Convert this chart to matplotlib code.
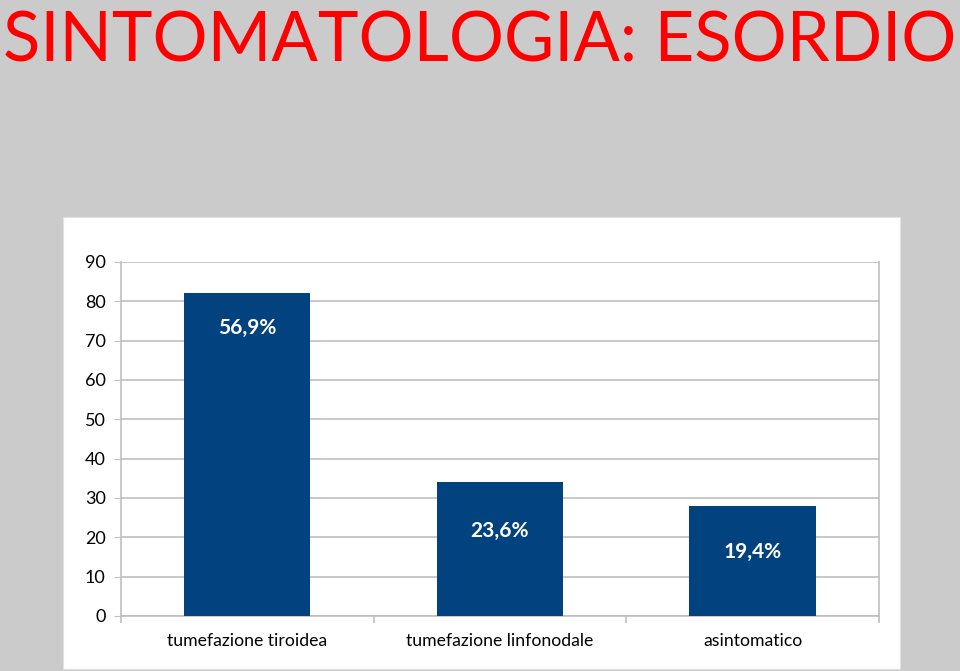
import matplotlib.pyplot as plt

categories = ["tumefazione tiroidea", "tumefazione linfonodale", "asintomatico"]
values = [82, 34, 28]
labels = ["56,9%", "23,6%", "19,4%"]
label_y = [73.2, 21.6, 16.3]

BG = "#cbcbcb"
BAR = "#02437f"
GRID = "#bfbfbf"

plt.rcParams['font.family'] = ['Lato', 'DejaVu Sans']

fig = plt.figure(figsize=(9.6, 6.71), dpi=100, facecolor=BG)

# white chart panel
panel = fig.add_axes([0.0656, 0.003, 0.8719, 0.6736], zorder=-1)
panel.set_facecolor("white")
panel.set_xticks([])
panel.set_yticks([])
for s in panel.spines.values():
    s.set_color("#e0e0e0")

fig.text(0.5, 0.909, "SINTOMATOLOGIA: ESORDIO", color="#ff0000", fontsize=49.5,
         ha="center", va="baseline")

ax = fig.add_axes([0.126, 0.082, 0.7896, 0.5276])
ax.set_facecolor("none")
x = range(len(categories))
ax.bar(x, values, width=0.5, color=BAR, zorder=3)
for i, (lab, y) in enumerate(zip(labels, label_y)):
    ax.text(i, y, lab, color="white", fontsize=15, fontweight="bold",
            ha="center", va="center", zorder=4)

ax.set_xlim(-0.5, len(categories) - 0.5)
ax.set_ylim(0, 90)
ax.set_yticks(range(0, 91, 10))
ax.yaxis.grid(True, color=GRID, lw=1.2, zorder=1)
ax.tick_params(axis="y", length=5, color=GRID, labelsize=13, pad=6)
ax.set_xticks(list(x))
ax.set_xticklabels(categories, fontsize=12.7)
ax.tick_params(axis="x", length=0, pad=12)
ax.set_xticks([i - 0.5 for i in range(len(categories) + 1)], minor=True)
ax.tick_params(axis="x", which="minor", length=5, color=GRID, width=1.2)
ax.spines["top"].set_visible(False)
for side in ["left", "right", "bottom"]:
    ax.spines[side].set_color(GRID)
    ax.spines[side].set_linewidth(1.2)

fig.savefig("out.png", dpi=100, facecolor=BG)
